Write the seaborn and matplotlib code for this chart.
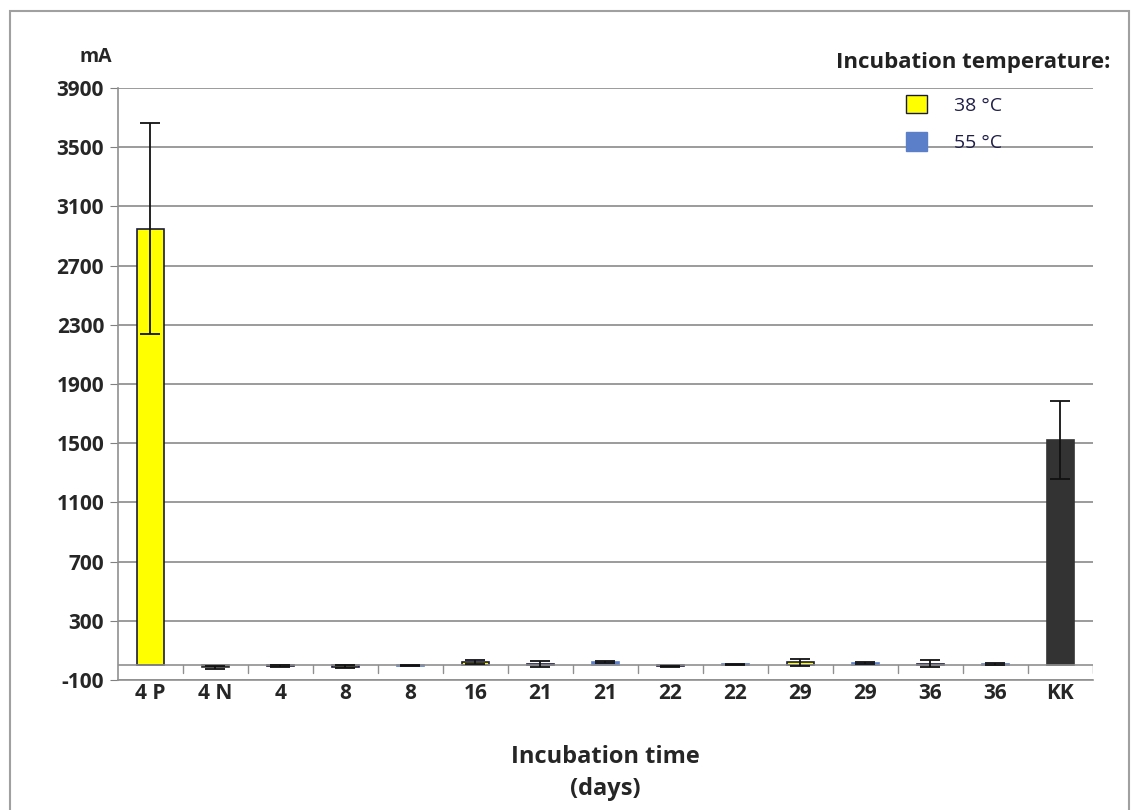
import numpy as np
import pandas as pd
import matplotlib
matplotlib.use("Agg")
import matplotlib.pyplot as plt
import seaborn as sns
from matplotlib.patches import Patch, Rectangle

# ── data ────────────────────────────────────────────────────
labels = ["4 P", "4 N", "4", "8", "8", "16", "21", "21", "22", "22",
          "29", "29", "36", "36", "KK"]
groups = ["38", "ctrl", "38", "38", "55", "38", "38", "55", "38", "55",
          "38", "55", "38", "55", "ctrl"]
values = [2950, -15, -5, -10, -3, 20, 10, 20, -8, 5, 20, 15, 10, 10, 1520]
errors = [710, 10, 4, 8, 3, 15, 20, 5, 5, 4, 25, 8, 25, 6, 265]

yticks = [-100, 300, 700, 1100, 1500, 1900, 2300, 2700, 3100, 3500, 3900]

palette = {"38": "#FFFF00", "55": "#5B7FC8", "ctrl": "#333333"}
edges = {"38": "#1A1A40", "55": "#5B7FC8", "ctrl": "#333333"}

df = pd.DataFrame({"pos": range(len(labels)), "value": values,
                   "group": groups, "err": errors})

sns.set_style("white")
plt.rcParams["font.family"] = ["Open Sans", "DejaVu Sans"]

fig = plt.figure(figsize=(11.31, 8.10), dpi=100)
ax = fig.add_axes([0.1043, 0.1605, 0.862, 0.731])

sns.barplot(data=df, x="pos", y="value", hue="group", palette=palette,
            dodge=False, width=0.42, saturation=1, ax=ax, legend=False,
            errorbar=None)

# bar outlines per group
for p in ax.patches:
    cx = p.get_x() + p.get_width() / 2
    idx = int(round(cx))
    if 0 <= idx < len(groups):
        p.set_edgecolor(edges[groups[idx]])
        p.set_linewidth(1.2)

ax.errorbar(df["pos"], df["value"], yerr=df["err"], fmt="none",
            ecolor="#111111", elinewidth=1.3, capsize=7, capthick=1.3)

ax.set_xlim(-0.5, len(labels) - 0.5)
ax.set_ylim(-100, 3900)
ax.set_yticks(yticks)
ax.set_yticklabels([str(t) for t in yticks], fontsize=15, fontweight="bold")
ax.yaxis.grid(True, color="#808080", linewidth=1.1)
ax.set_axisbelow(True)
ax.tick_params(axis="y", length=6, color="#808080", left=True, pad=4)

ax.set_xticks(range(len(labels)))
ax.set_xticklabels(labels, fontsize=15, fontweight="bold")
ax.tick_params(axis="x", length=0, pad=2)

# zero axis with category boundary ticks
ax.axhline(0, color="#909090", linewidth=1.2, zorder=1)
for b in np.arange(0.5, len(labels), 1.0):
    ax.plot([b, b], [0, -55], color="#909090", linewidth=1.0, zorder=1)

for s in ["top", "right"]:
    ax.spines[s].set_visible(False)
for s in ["left", "bottom"]:
    ax.spines[s].set_color("#909090")
    ax.spines[s].set_linewidth(1.2)

ax.set_xlabel("Incubation time\n(days)", fontsize=17, fontweight="bold",
              labelpad=30, linespacing=1.4)
ax.set_ylabel("")
ax.text(-0.006, 1.035, "mA", transform=ax.transAxes, fontsize=14,
        fontweight="bold", ha="right", va="bottom")

handles = [Patch(facecolor=palette["38"], edgecolor="#1A1A40", label="38 °C"),
           Patch(facecolor=palette["55"], edgecolor=palette["55"], label="55 °C")]
leg = ax.legend(handles=handles, loc="upper left", bbox_to_anchor=(0.79, 1.018),
                frameon=False, fontsize=14, handlelength=1.1, handleheight=1.1,
                handletextpad=1.4, labelspacing=0.9)
for t in leg.get_texts():
    t.set_color("#1F1F4A")
ax.text(1.018, 1.025, "Incubation temperature:", transform=ax.transAxes,
        fontsize=16, fontweight="bold", ha="right", va="bottom", color="#222222")

fig.patches.append(Rectangle((0.009, -0.01), 0.989, 0.996, transform=fig.transFigure,
                             fill=False, edgecolor="#A0A0A0", linewidth=1.5))

fig.savefig("out.png", dpi=100)
